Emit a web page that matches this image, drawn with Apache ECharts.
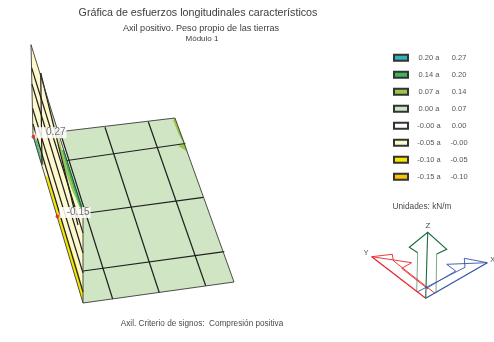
<!DOCTYPE html>
<html>
<head>
<meta charset="utf-8">
<style>
  html, body { margin: 0; padding: 0; background: #ffffff; }
  #chart { width: 494px; height: 342px; }
</style>
</head>
<body>
<div id="chart"></div>
<script src="https://cdn.jsdelivr.net/npm/echarts@6/dist/echarts.min.js"></script>
<script>
// band names, top of the legend first
const bandFrom = ['0.20', '0.14', '0.07', '0.00', '-0.00', '-0.05', '-0.10', '-0.15'];
const bandTo = ['0.27', '0.20', '0.14', '0.07', '0.00', '-0.00', '-0.05', '-0.10'];

// projected mesh
const wallFace = [[31, 44.7], [83, 212], [83, 303], [33, 136]];
const plateFace = [[60, 131.7], [175, 118], [234, 282], [83, 303], [83, 212]];

const teal = [[33, 136], [35, 138.5], [42, 163], [41, 163]];
const green = [
  [[35, 138.5], [36.5, 140], [43, 164], [42, 163]],
  [[64, 150], [70.5, 170], [77, 190], [83, 208], [80, 208], [74, 190], [67.5, 170], [62, 150]]
];
const lime = [
  [[175, 118], [185, 143], [187.3, 151.5], [178, 146], [184, 143.5], [179, 135], [173, 120]],
  [[36.5, 140], [38, 142], [44, 165], [43, 164]],
  [[58, 135], [62, 150], [67.5, 170], [74, 190], [80, 208], [72, 190], [65, 170], [60, 150]]
];
const pale = [[[40.7, 73], [47.6, 98], [59.5, 136], [72, 175], [83, 212], [72, 180], [60, 140], [50, 112]]];
const cream = [wallFace];
const yellow = [[[45.5, 176], [48, 177], [56, 200], [63, 225], [75, 260], [83, 290], [83, 303]]];
const orange = [[[52, 200], [56, 213], [60, 226]]];

const meshLines = [
  [[60, 131.7], [112.7, 299]],
  [[105, 127.3], [159.3, 292.7]],
  [[148.3, 121.7], [205.7, 285.7]],
  [[67, 160.5], [185.3, 143.5]],
  [[84, 213.5], [203.3, 197.3]],
  [[83, 271], [224.3, 251.7]],
  [[31.7, 68], [83, 233]],
  [[31.9, 84], [83, 253]],
  [[32.5, 108], [83, 273]],
  [[33, 124], [83, 292]],
  [[40.7, 73], [42, 165]],
  [[40.7, 73], [78, 225]]
];
const edgeLines = [
  [[31, 44.7], [83, 212], [83, 303], [33, 136], [31, 44.7]],
  [[60, 131.7], [175, 118], [234, 282], [83, 303]]
];

const extremes = [[33.5, 136.7, '0.27'], [57.5, 216.5, '-0.15']];

const zArrow = [
  [[427.7, 232.3], [425.7, 298.3]],
  [[417.7, 252.7], [409.3, 247.3], [427.7, 232.3], [446.7, 249.3], [436.7, 254]]
];
const zShaft = [[[417.7, 252.7], [416.7, 291.7]], [[436.7, 254], [436, 293.3]]];
const yMain = [[[371.7, 256.7], [425.7, 298.3]]];
const yArrow = [
  [[393.3, 260.7], [392.3, 254.3], [371.7, 256.7], [411.7, 262.7], [401.7, 268.3]],
  [[393.3, 260.7], [435, 293.3]],
  [[401.7, 268.3], [428, 289]]
];
const xMain = [[[487.3, 262.7], [425.7, 298.3]]];
const xArrow = [
  [[465, 267.3], [464.3, 258.3], [487.3, 262.7], [446.7, 264.3], [455.7, 271]],
  [[465, 267.3], [417.7, 291.7]],
  [[455.7, 271], [426.7, 288.3]]
];

const chart = echarts.init(document.getElementById('chart'), null, { renderer: 'canvas' });

const bandName = (i) => bandFrom[i] + ' a|' + bandTo[i];

const polySeries = (name, polys, color, z) => ({
  name: name,
  type: 'custom',
  z: z,
  silent: true,
  coordinateSystem: 'cartesian2d',
  itemStyle: { color: color, borderColor: '#333333', borderWidth: 0.6 },
  data: polys.map((p, i) => [i]),
  renderItem: (params, api) => ({
    type: 'polygon',
    shape: { points: polys[api.value(0)].map((p) => api.coord(p)) },
    style: { fill: color, stroke: null }
  })
});

const lineSeries = (lines, color, width, z) => ({
  type: 'custom',
  z: z,
  silent: true,
  coordinateSystem: 'cartesian2d',
  data: lines.map((p, i) => [i]),
  renderItem: (params, api) => ({
    type: 'polyline',
    shape: { points: lines[api.value(0)].map((p) => api.coord(p)) },
    style: { stroke: color, lineWidth: width, fill: null }
  })
});

const titleText = (text, x, y, size, color) => ({
  text: text,
  left: x,
  top: y,
  padding: 0,
  textAlign: 'center',
  textStyle: { fontFamily: 'Liberation Sans', fontSize: size, fontWeight: 'normal', color: color }
});

const option = {
  animation: false,
  backgroundColor: '#ffffff',
  title: [
    titleText('Gráfica de esfuerzos longitudinales característicos', 198, 7.5, 10.7, '#3c3c3c'),
    titleText('Axil positivo. Peso propio de las tierras', 201, 23.5, 9.1, '#3c3c3c'),
    titleText('Módulo 1', 202, 34.5, 8, '#3c3c3c'),
    titleText('Axil. Criterio de signos:  Compresión positiva', 202, 319.5, 8.2, '#4a4a4a'),
    titleText('Unidades: kN/m', 422, 203, 8.3, '#4a4a4a'),
    titleText('Z', 428, 221.5, 8, '#4a4a4a'),
    titleText('Y', 366, 249.5, 7, '#4a4a4a'),
    titleText('X', 492.5, 256.5, 7, '#4a4a4a')
  ],
  grid: { left: 0, right: 0, top: 0, bottom: 0 },
  xAxis: { type: 'value', min: 0, max: 494, show: false },
  yAxis: { type: 'value', min: 0, max: 342, inverse: true, show: false },
  legend: {
    left: 393,
    top: 53.8,
    orient: 'vertical',
    icon: 'rect',
    itemWidth: 14,
    itemHeight: 6,
    itemGap: 9,
    selectedMode: false,
    padding: 0,
    data: bandFrom.map((v, i) => bandName(i)),
    formatter: (name) => {
      const parts = name.split('|');
      return '{a|' + parts[0] + '}{b|' + parts[1] + '}';
    },
    textStyle: {
      rich: {
        a: { width: 32, align: 'right', fontFamily: 'Liberation Sans', fontSize: 7.5, color: '#555555', lineHeight: 8 },
        b: { width: 28, align: 'center', fontFamily: 'Liberation Sans', fontSize: 7.5, color: '#555555', lineHeight: 8 }
      }
    }
  },
  series: [
    polySeries(bandName(0), [teal], '#2fb1b5', 5),
    polySeries(bandName(1), green, '#3cb55e', 5),
    polySeries(bandName(2), lime, '#98c84a', 4),
    polySeries(bandName(3), [plateFace].concat(pale), '#cfe5c4', 3),
    polySeries(bandName(4), [], '#ffffff', 2),
    polySeries(bandName(5), cream, '#fef9cd', 2),
    polySeries(bandName(6), yellow, '#f7e600', 4),
    polySeries(bandName(7), orange, '#fdc300', 5),
    lineSeries(meshLines, '#1f1f1f', 1.2, 6),
    lineSeries(edgeLines, '#3a3a3a', 0.9, 6),
    lineSeries(zShaft, '#7fa98c', 1, 7),
    lineSeries(yArrow, '#e8262d', 0.9, 7),
    lineSeries(xArrow, '#3355aa', 0.9, 7),
    lineSeries(yMain, '#e8262d', 1.3, 7),
    lineSeries(xMain, '#3355aa', 1.3, 7),
    lineSeries(zArrow, '#1c6b3a', 1.1, 8),
    {
      type: 'scatter',
      z: 10,
      silent: true,
      symbolSize: 4,
      itemStyle: { color: '#e8262d', opacity: 0.85 },
      data: extremes,
      label: {
        show: true,
        position: 'right',
        distance: 0,
        offset: [0, -4],
        align: 'left',
        formatter: (p) => '{t|' + p.value[2] + '}',
        rich: {
          t: {
            width: 30,
            height: 11,
            lineHeight: 11,
            align: 'right',
            padding: [0, 1, 0, 0],
            backgroundColor: '#ffffff',
            fontFamily: 'Liberation Sans',
            fontSize: 10,
            color: '#5a5a5a'
          }
        }
      }
    }
  ]
};

chart.setOption(option);
</script>
</body>
</html>
